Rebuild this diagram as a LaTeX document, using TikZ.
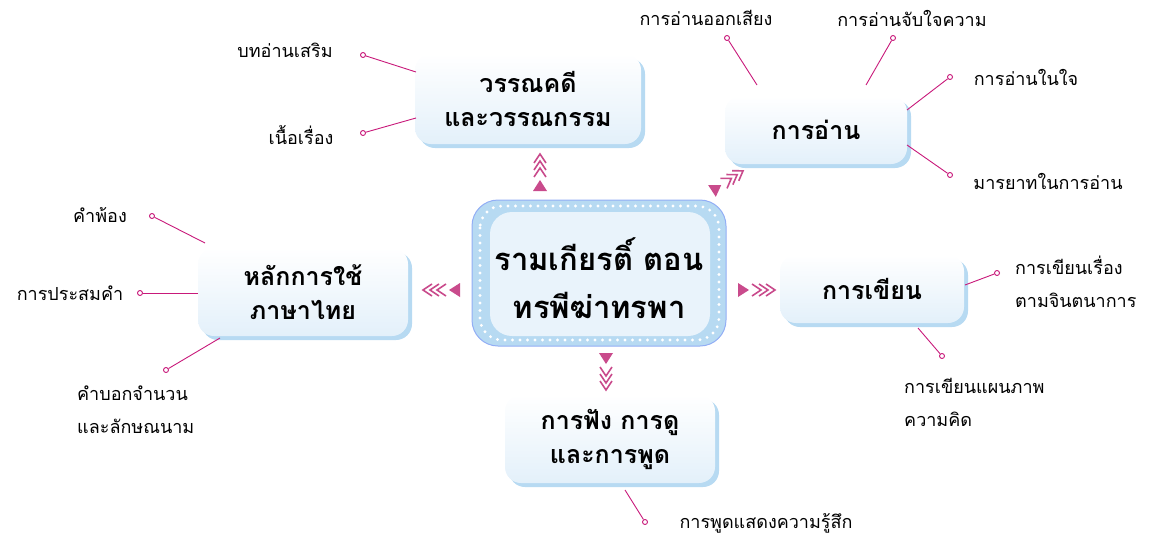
\documentclass[tikz,border=0pt]{standalone}
\usepackage{fontspec}
\newfontfamily\thf[Script=Thai]{Loma}
\usetikzlibrary{shadows}
\definecolor{mag}{HTML}{C8197A}
\definecolor{arr}{HTML}{C94B8C}
\definecolor{sh}{HTML}{B7DAF2}
\definecolor{bot}{HTML}{E3F0FA}
\tikzset{
 subbox/.style={rounded corners=16pt, draw=none, top color=white, bottom color=bot,
   drop shadow={shadow xshift=4pt, shadow yshift=-4pt, fill=sh, opacity=1},
   align=center, font=\thf\bfseries\fontsize{25}{34}\selectfont, inner sep=0pt},
 leaf/.style={font=\thf\fontsize{18}{33}\selectfont, inner sep=0pt},
 conn/.style={draw=mag, line width=0.9pt},
 dot/.style={circle, draw=mag, fill=white, line width=0.9pt, minimum size=5pt, inner sep=0pt},
 chev/.pic={\fill[arr] (0,-7)--(11,0)--(0,7)--cycle;
   \foreach \d in {14,21,28}{\draw[arr,line width=1.6pt] (\d,-6)--(\d+9,0)--(\d,6);}}
}
\begin{document}
\begin{tikzpicture}[x=1pt,y=-1pt]
\useasboundingbox (0,0) rectangle (1161,541);
% centre
\draw[fill=sh, draw=sh!80!blue, line width=1pt, rounded corners=26pt] (472,200) rectangle (726,346);
\fill[bot!80!white, rounded corners=22pt] (490,212) rectangle (710,336);
\draw[white, line width=3.2pt, line cap=round, dash pattern=on 0pt off 7.5pt, rounded corners=22pt] (480,206) rectangle (719,340);
\node[font=\thf\bfseries\fontsize{31}{48}\selectfont, align=center] (c) at (599,278) {รามเกียรติ์ ตอน\\ทรพีฆ่าทรพา};
% sub boxes
\node[subbox, minimum width=226pt, minimum height=90pt] (w) at (528,99) {วรรณคดี\\และวรรณกรรม};
\node[subbox, minimum width=182pt, minimum height=68pt] (r) at (816,130) {การอ่าน};
\node[subbox, minimum width=184pt, minimum height=68pt] (k) at (872,289) {การเขียน};
\node[subbox, minimum width=210pt, minimum height=88pt] (h) at (303,292) {หลักการใช้\\ภาษาไทย};
\node[subbox, minimum width=210pt, minimum height=88pt] (f) at (610,439) {การฟัง การดู\\และการพูด};
% chevrons
\pic[rotate=90] at (540,191) {chev};
\pic[rotate=33] at (712,191) {chev};
\pic at (738,290) {chev};
\pic[rotate=180] at (460,290) {chev};
\pic[rotate=-90] at (606,353) {chev};
% leaves
\node[leaf] (l1) at (285,50) {บทอ่านเสริม};
\node[leaf] (l2) at (301,135) {เนื้อเรื่อง};
\node[leaf] (l3) at (706,18) {การอ่านออกเสียง};
\node[leaf] (l4) at (912,18) {การอ่านจับใจความ};
\node[leaf] (l5) at (1026,77) {การอ่านในใจ};
\node[leaf] (l6) at (1048,181) {มารยาทในการอ่าน};
\node[leaf, anchor=west, align=left] (l7) at (1015,282) {การเขียนเรื่อง\\ตามจินตนาการ};
\node[leaf, anchor=west, align=left] (l8) at (904,402) {การเขียนแผนภาพ\\ความคิด};
\node[leaf] (l9) at (766,523) {การพูดแสดงความรู้สึก};
\node[leaf, anchor=west, align=left] (l10) at (77,410) {คำบอกจำนวน\\และลักษณนาม};
\node[leaf] (l11) at (70,293) {การประสมคำ};
\node[leaf] (l12) at (100,215) {คำพ้อง};
% endpoints
\node[dot] (d1) at (363,55) {}; \coordinate (e1) at (416,72);
\node[dot] (d2) at (363,133) {}; \coordinate (e2) at (416,118);
\node[dot] (d3) at (727,38) {}; \coordinate (e3) at (757,85);
\node[dot] (d4) at (893,38) {}; \coordinate (e4) at (866,85);
\node[dot] (d5) at (950,77) {}; \coordinate (e5) at (907,110);
\node[dot] (d6) at (950,175) {}; \coordinate (e6) at (907,145);
\node[dot] (d7) at (997,273) {}; \coordinate (e7) at (965,285);
\node[dot] (d8) at (942,356) {}; \coordinate (e8) at (918,328);
\node[dot] (d9) at (645,522) {}; \coordinate (e9) at (625,490);
\node[dot] (d10) at (166,370) {}; \coordinate (e10) at (220,338);
\node[dot] (d11) at (140,293) {}; \coordinate (e11) at (198,293);
\node[dot] (d12) at (152,216) {}; \coordinate (e12) at (205,243);
\foreach \i in {1,...,12}{\draw[conn] (d\i) -- (e\i);}
\end{tikzpicture}
\end{document}
